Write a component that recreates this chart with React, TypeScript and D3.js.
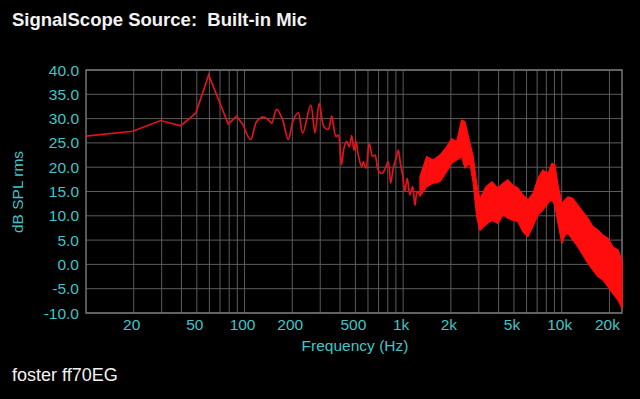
import React from "react";
import * as d3 from "d3";

// ---- Data ----
// Low/mid frequency trace (Hz, dB SPL)
const lineFreqs = [10, 19.7, 29.6, 39.5, 49.2, 59.4, 78.9, 89.2, 98.1, 109.3, 119.2, 131.2, 143.1, 148.2, 159.4, 173.9, 188.6, 202.8, 218.1, 232.5, 261.2, 277.9, 295.8, 316.7, 337.2, 354.2, 377.0, 389.8, 408.3, 423.4, 440.4, 457.3, 473.5, 489.6, 504.0, 521.2, 547.5, 560.4, 582.8, 611.5, 642.4, 664.2, 696.6, 731.7, 767.6, 805.4, 834.1, 866.2, 910.0, 931.3, 964.3, 992.7, 1026, 1061, 1104, 1148, 1187, 1227, 1276, 1327, 1372, 1440];
const lineDb = [26.4, 27.4, 29.6, 28.5, 31.1, 39.0, 28.9, 30.5, 28.7, 25.7, 29.4, 30.3, 29.6, 29.0, 31.9, 29.7, 25.7, 29.7, 31.2, 27.0, 32.8, 27.1, 33.1, 28.3, 27.8, 30.5, 26.3, 26.6, 20.5, 23.9, 25.3, 24.2, 26.5, 23.5, 25.3, 22.5, 20.1, 21.1, 19.8, 24.9, 22.2, 22.5, 19.4, 18.7, 19.6, 21.1, 16.7, 19.8, 22.2, 23.5, 20.5, 18.4, 15.0, 17.7, 14.3, 16.0, 12.2, 15.0, 14.3, 17.0, 16.0, 21.8];

// Dense high-frequency noise band: envelope (Hz, upper dB, lower dB)
const bandFreqs = [1276, 1407, 1548, 1706, 1881, 2022, 2174, 2338, 2453, 2638, 2767, 2907, 3050, 3327, 3630, 3960, 4259, 4578, 4923, 5293, 5693, 6122, 6583, 7078, 7612, 8185, 8674, 9061, 9463, 10030, 10476, 10942, 11766, 12651, 13607, 14631, 15731, 16915, 18190, 19557, 21027, 22614, 24000];
const bandHi = [18.0, 22.2, 21.5, 22.5, 24.2, 25.9, 25.3, 29.7, 29.4, 24.9, 22.2, 16.7, 13.5, 16.0, 17.0, 15.7, 16.7, 17.4, 16.3, 15.7, 14.3, 13.3, 14.6, 17.7, 19.4, 18.7, 20.8, 20.5, 16.5, 12.5, 13.3, 13.9, 13.6, 12.2, 10.8, 9.5, 7.8, 7.1, 6.0, 5.4, 3.6, 3.0, 0.9];
const bandLo = [14.0, 16.0, 16.7, 17.0, 19.1, 20.8, 21.5, 22.2, 19.8, 20.8, 16.7, 9.8, 7.0, 8.2, 9.1, 8.4, 10.2, 9.5, 9.1, 8.8, 6.7, 5.7, 7.8, 10.2, 11.2, 12.6, 13.3, 12.0, 8.5, 4.3, 6.0, 6.4, 5.0, 3.6, 1.9, 0.2, -1.2, -2.5, -3.2, -4.6, -6.0, -7.3, -9.0];

const yTicks = [40, 35, 30, 25, 20, 15, 10, 5, 0, -5, -10];
const xTickValues = [20, 50, 100, 200, 500, 1000, 2000, 5000, 10000, 20000];
const xTickLabels = ["20", "50", "100", "200", "500", "1k", "2k", "5k", "10k", "20k"];

const W = 640;
const H = 399;
const M = { left: 86, right: 622, top: 70, bottom: 313 };
const FONT = "'Liberation Sans', Arial, Helvetica, sans-serif";
const CYAN = "#3fc6c8";
const SMOOTH_FROM = 8; // index where the trace becomes dense enough to look smooth

export default function App() {
  const x = d3.scaleLog().domain([10, 24000]).range([M.left, M.right]);
  const y = d3.scaleLinear().domain([-10, 40]).range([M.bottom, M.top]);

  const gridX = x.ticks(40).filter((t) => t > 10 && t < 24000);

  const idx = lineDb.map((_, i) => i);
  const sparseIdx = idx.slice(0, SMOOTH_FROM + 1);
  const denseIdx = idx.slice(SMOOTH_FROM);

  const sparsePath = d3
    .line<number>()
    .x((i) => x(lineFreqs[i]))
    .y((i) => y(lineDb[i]))(sparseIdx) as string;

  const densePath = d3
    .line<number>()
    .x((i) => x(lineFreqs[i]))
    .y((i) => y(lineDb[i]))
    .curve(d3.curveCatmullRom.alpha(0.5))(denseIdx) as string;

  const bandPath = d3
    .area<number>()
    .x((_, i) => x(bandFreqs[i]))
    .y0((_, i) => y(bandLo[i]))
    .y1((d) => y(d))(bandHi) as string;

  if (typeof document !== "undefined") {
    document.body.style.margin = "0";
    document.body.style.background = "#000";
  }

  return (
    <svg width={W} height={H} style={{ display: "block", position: "absolute", left: 0, top: 0 }}>
      <rect x={0} y={0} width={W} height={H} fill="#000" />
      <text x={12} y={26} fill="#f2f2f2" fontFamily={FONT} fontWeight="bold" fontSize={18.5} xmlSpace="preserve" style={{ whiteSpace: "pre" }}>
        {"SignalScope Source:  Built-in Mic"}
      </text>

      {/* grid */}
      {yTicks.map((t) => (
        <line key={"gy" + t} x1={M.left} x2={M.right} y1={y(t)} y2={y(t)} stroke="#5c5c5c" strokeWidth={1} />
      ))}
      {gridX.map((t) => (
        <line key={"gx" + t} x1={x(t)} x2={x(t)} y1={M.top} y2={M.bottom} stroke="#5c5c5c" strokeWidth={1} />
      ))}
      <rect x={M.left} y={M.top} width={M.right - M.left} height={M.bottom - M.top} fill="none" stroke="#747474" strokeWidth={1.5} />

      {/* data */}
      <path d={bandPath} fill="#ff0c0c" stroke="#ff0c0c" strokeWidth={1.2} strokeLinejoin="round" />
      <path d={sparsePath} fill="none" stroke="#e0141c" strokeWidth={1.7} strokeLinejoin="miter" />
      <path d={densePath} fill="none" stroke="#e0141c" strokeWidth={1.7} strokeLinejoin="round" />

      {/* y tick labels */}
      {yTicks.map((t) => (
        <text key={"ty" + t} x={79} y={y(t) + 5.5} textAnchor="end" fill={CYAN} fontFamily={FONT} fontSize={15.5}>
          {t.toFixed(1)}
        </text>
      ))}
      {/* x tick labels */}
      {xTickValues.map((t, i) => (
        <text key={"tx" + t} x={x(t) - 2} y={330} textAnchor="middle" fill={CYAN} fontFamily={FONT} fontSize={15.5}>
          {xTickLabels[i]}
        </text>
      ))}
      <text x={(M.left + M.right) / 2 + 1} y={351} textAnchor="middle" fill={CYAN} fontFamily={FONT} fontSize={15.5}>
        Frequency (Hz)
      </text>
      <text transform={`translate(22.5, 192) rotate(-90)`} textAnchor="middle" fill={CYAN} fontFamily={FONT} fontSize={15.5}>
        dB SPL rms
      </text>
      <text x={12} y={381} fill="#f2f2f2" fontFamily={FONT} fontSize={18}>
        foster ff70EG
      </text>
    </svg>
  );
}
